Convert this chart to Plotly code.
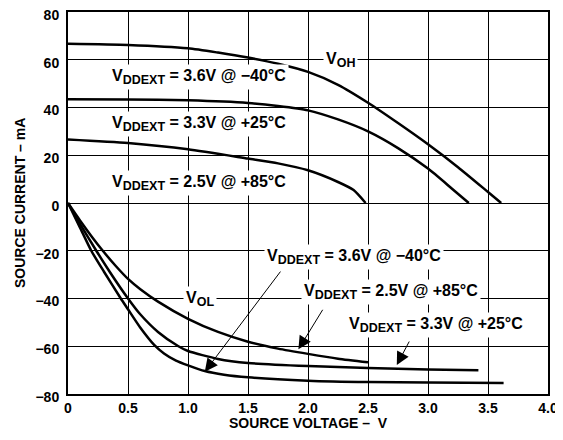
import plotly.graph_objects as go

# VOH curves (source current positive)
voh36_x = [0, 0.5, 1.0, 1.25, 1.5, 1.75, 2.0, 2.25, 2.5, 2.75, 3.0, 3.25, 3.5, 3.61]
voh36_y = [66.7, 66.2, 64.8, 63.0, 60.9, 58.3, 54.9, 49.5, 42.0, 33.5, 24.6, 15.0, 4.6, 0]
voh33_x = [0, 0.5, 1.0, 1.5, 1.75, 2.0, 2.25, 2.5, 2.75, 3.0, 3.2, 3.34]
voh33_y = [43.5, 43.4, 43.0, 41.9, 40.6, 38.8, 35.0, 30.0, 23.0, 14.4, 6.0, 0]
voh25_x = [0, 0.5, 1.0, 1.5, 1.75, 2.0, 2.25, 2.38, 2.48]
voh25_y = [26.6, 25.1, 22.5, 18.6, 16.6, 13.7, 8.8, 5.4, 0]

# VOL curves (source current negative)
vol25_x = [0, 0.1, 0.2, 0.29, 0.4, 0.5, 0.6, 0.75, 1.0, 1.25, 1.5, 1.75, 2.0, 2.25, 2.5]
vol25_y = [0, -7.3, -14.2, -20, -26.5, -31.8, -36, -41.3, -48.5, -54, -58.1, -61, -63.2, -65.2, -66.7]
vol33_x = [0, 0.1, 0.236, 0.35, 0.5, 0.6, 0.75, 0.92, 1.0, 1.25, 1.5, 2.0, 2.5, 3.0, 3.42]
vol33_y = [0, -8.7, -20, -29, -40, -46.5, -54, -60, -62, -65.3, -67, -68.3, -69.1, -69.7, -70.1]
vol36_x = [0, 0.1, 0.194, 0.3, 0.44, 0.5, 0.6, 0.72, 0.8, 0.9, 1.0, 1.14, 1.3, 1.5, 2.0, 2.5, 3.0, 3.63]
vol36_y = [0, -10.3, -20, -28.8, -40, -44.5, -52, -59.5, -63, -66, -68, -70.4, -71.9, -73.0, -74.4, -75.0, -75.2, -75.4]

x_ticks = [0, 0.5, 1.0, 1.5, 2.0, 2.5, 3.0, 3.5, 4.0]
x_ticktext = ["<b>0</b>", "<b>0.5</b>", "<b>1.0</b>", "<b>1.5</b>", "<b>2.0</b>",
              "<b>2.5</b>", "<b>3.0</b>", "<b>3.5</b>", "<b>4.0</b>"]
y_ticks = [-80, -60, -40, -20, 0, 20, 40, 60, 80]
y_ticktext = ["<b>\u221280</b>", "<b>\u221260</b>", "<b>\u221240</b>", "<b>\u221220</b>",
              "<b>0</b>", "<b>20</b>", "<b>40</b>", "<b>60</b>", "<b>80</b>"]

FONT = "Liberation Sans, Arial, Helvetica, sans-serif"

fig = go.Figure()
for xs, ys in [(voh36_x, voh36_y), (voh33_x, voh33_y), (voh25_x, voh25_y),
               (vol25_x, vol25_y), (vol33_x, vol33_y), (vol36_x, vol36_y)]:
    fig.add_trace(go.Scatter(x=xs, y=ys, mode="lines",
                             line=dict(color="black", width=2.5, shape="spline", smoothing=0.6),
                             showlegend=False, hoverinfo="skip"))

SUB = "<sub><span style='font-size:12.5px'>{}</span></sub>"
lab = "<b>V" + SUB.format("<b>DDEXT</b>") + " = {}</b>"
text_annots = [
    ("<b>V" + SUB.format("<b>OH</b>") + "</b>", 2.27, 60),
    (lab.format("3.6V @ \u221240\u00b0C"), 1.09, 52.6),
    (lab.format("3.3V @ +25\u00b0C"), 1.09, 33.3),
    (lab.format("2.5V @ +85\u00b0C"), 1.09, 8.2),
    ("<b>V" + SUB.format("<b>OL</b>") + "</b>", 1.1, -40),
    (lab.format("3.6V @ \u221240\u00b0C"), 2.38, -22.6),
    (lab.format("2.5V @ +85\u00b0C"), 2.69, -37.2),
    (lab.format("3.3V @ +25\u00b0C"), 3.07, -51.1),
]
for t, x, y in text_annots:
    fig.add_annotation(x=x, y=y, text=t, showarrow=False, bgcolor="white",
                       borderpad=2,
                       font=dict(family=FONT, size=16, color="black"))

arrows = [
    # (tail x, tail y, head x, head y)
    (1.78, -28.1, 1.14, -70.7),
    (2.13, -44.1, 1.92, -61.3),
    (2.85, -57.4, 2.74, -67.9),
]
for ax, ay, x, y in arrows:
    fig.add_annotation(x=x, y=y, ax=ax, ay=ay, axref="x", ayref="y", text="",
                       showarrow=True, arrowhead=2, arrowsize=2.6, arrowwidth=1,
                       arrowcolor="black", standoff=0, startstandoff=0)

# axis titles as paper-anchored annotations
fig.add_annotation(x=0.5, y=-29 / 382, xref="paper", yref="paper",
                   text="<b>SOURCE VOLTAGE \u2013  V</b>", showarrow=False,
                   xanchor="center", yanchor="middle",
                   font=dict(family=FONT, size=14, color="black"))
fig.add_annotation(x=-48 / 480, y=0.5, xref="paper", yref="paper",
                   text="<b>SOURCE CURRENT \u2013 mA</b>", showarrow=False, textangle=-90,
                   xanchor="center", yanchor="middle",
                   font=dict(family=FONT, size=14, color="black"))

# page body has an 8px margin; plot area targets page x 68..548, y 12..394
fig.update_layout(
    width=563, height=440,
    margin=dict(l=60, r=23, t=4, b=54, autoexpand=False),
    plot_bgcolor="white", paper_bgcolor="white",
    font=dict(family=FONT, color="black"),
)
fig.update_xaxes(range=[0, 4], tickvals=x_ticks, ticktext=x_ticktext,
                 showgrid=True, gridcolor="black", gridwidth=1,
                 showline=True, linecolor="black", linewidth=2, mirror=True,
                 zeroline=False, ticks="", automargin=False, ticklabeloverflow="allow",
                 tickfont=dict(family=FONT, size=14))
fig.update_yaxes(range=[-80, 80], tickvals=y_ticks, ticktext=y_ticktext,
                 showgrid=True, gridcolor="black", gridwidth=1,
                 showline=True, linecolor="black", linewidth=2, mirror=True,
                 zeroline=False, ticks="", automargin=False, ticklabelstandoff=4,
                 ticklabelshift=3, ticklabeloverflow="allow",
                 tickfont=dict(family=FONT, size=14))

fig.write_html("out.html")
